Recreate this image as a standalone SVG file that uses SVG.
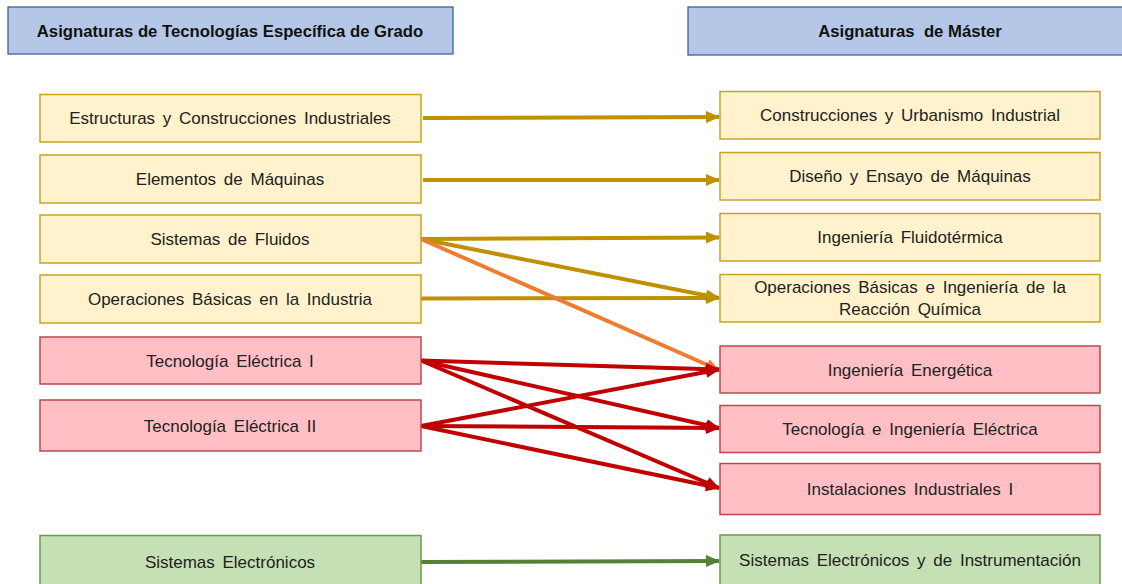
<svg xmlns="http://www.w3.org/2000/svg" width="1122" height="584" viewBox="0 0 1122 584">
  <style>
    .hdr { fill: #B4C7E7; stroke: #2F5597; stroke-width: 1.2; }
    .hdr-t { font-family: "Liberation Sans", Arial, sans-serif; font-weight: bold; font-size: 16.7px; fill: #111; text-anchor: middle; }
    .y { fill: #FFF2CC; stroke: #C9A227; stroke-width: 1.5; }
    .r { fill: #FFBFC5; stroke: #C0474D; stroke-width: 1.5; }
    .g { fill: #C5E0B4; stroke: #6A9B45; stroke-width: 1.5; }
    .t { font-family: "Liberation Sans", Arial, sans-serif; font-size: 17px; fill: #222; text-anchor: middle; word-spacing: 3px; }
    .c { fill: none; stroke-width: 4; }
    .gold { stroke: #BF9000; }
    .orange { stroke: #ED7D31; }
    .red { stroke: #C00000; }
    .green { stroke: #548235; }
  </style>
  <defs>
    <marker id="ah-gold" markerUnits="userSpaceOnUse" viewBox="0 0 14 12" markerWidth="14" markerHeight="12" refX="13" refY="6" orient="auto">
      <path d="M0,0 L14,6 L0,12 z" fill="#BF9000"/>
    </marker>
    <marker id="ah-orange" markerUnits="userSpaceOnUse" viewBox="0 0 14 12" markerWidth="14" markerHeight="12" refX="13" refY="6" orient="auto">
      <path d="M0,0 L14,6 L0,12 z" fill="#ED7D31"/>
    </marker>
    <marker id="ah-red" markerUnits="userSpaceOnUse" viewBox="0 0 14 12" markerWidth="14" markerHeight="12" refX="13" refY="6" orient="auto">
      <path d="M0,0 L14,6 L0,12 z" fill="#C00000"/>
    </marker>
    <marker id="ah-green" markerUnits="userSpaceOnUse" viewBox="0 0 14 12" markerWidth="14" markerHeight="12" refX="13" refY="6" orient="auto">
      <path d="M0,0 L14,6 L0,12 z" fill="#548235"/>
    </marker>
  </defs>

  <rect width="1122" height="584" fill="#FFFFFF"/>

  <!-- column headers -->
  <g id="header-grado">
    <rect class="hdr" x="8" y="7" width="445" height="47"/>
    <text class="hdr-t" x="230" y="37">Asignaturas de Tecnologías Específica de Grado</text>
  </g>
  <g id="header-master">
    <rect class="hdr" x="688" y="7" width="440" height="48"/>
    <text class="hdr-t" x="910" y="37" xml:space="preserve">Asignaturas  de Máster</text>
  </g>

  <!-- connectors -->
  <g id="connectors">
    <line class="c gold" x1="423" y1="118" x2="719" y2="117" marker-end="url(#ah-gold)"/>
    <line class="c gold" x1="423" y1="180" x2="719" y2="180" marker-end="url(#ah-gold)"/>
    <line class="c gold" x1="421" y1="239" x2="719" y2="237.5" marker-end="url(#ah-gold)"/>
    <line class="c gold" x1="421" y1="239" x2="719" y2="298" marker-end="url(#ah-gold)"/>
    <line class="c gold" x1="421" y1="298.5" x2="719" y2="298" marker-end="url(#ah-gold)"/>
    <line class="c orange" x1="421" y1="239" x2="719" y2="370" marker-end="url(#ah-orange)"/>
    <line class="c red" x1="421" y1="360.5" x2="719" y2="369.5" marker-end="url(#ah-red)"/>
    <line class="c red" x1="421" y1="360.5" x2="719" y2="428" marker-end="url(#ah-red)"/>
    <line class="c red" x1="421" y1="360.5" x2="719" y2="488" marker-end="url(#ah-red)"/>
    <line class="c red" x1="421" y1="426" x2="719" y2="369.5" marker-end="url(#ah-red)"/>
    <line class="c red" x1="421" y1="426" x2="719" y2="428" marker-end="url(#ah-red)"/>
    <line class="c red" x1="421" y1="426" x2="719" y2="488" marker-end="url(#ah-red)"/>
    <line class="c green" x1="421" y1="562" x2="719" y2="561" marker-end="url(#ah-green)"/>
  </g>

  <!-- grado subjects -->
  <g id="estructuras">
    <rect class="y" x="40" y="94.5" width="381" height="47.5"/>
    <text class="t" x="230" y="124">Estructuras y Construcciones Industriales</text>
  </g>
  <g id="elementos">
    <rect class="y" x="40" y="155" width="381" height="48"/>
    <text class="t" x="230" y="185">Elementos de Máquinas</text>
  </g>
  <g id="fluidos">
    <rect class="y" x="40" y="215" width="381" height="48"/>
    <text class="t" x="230" y="245">Sistemas de Fluidos</text>
  </g>
  <g id="operaciones">
    <rect class="y" x="40" y="275" width="381" height="48"/>
    <text class="t" x="230" y="305">Operaciones Básicas en la Industria</text>
  </g>
  <g id="tec-electrica-1">
    <rect class="r" x="40" y="337" width="381" height="47"/>
    <text class="t" x="230" y="367">Tecnología Eléctrica I</text>
  </g>
  <g id="tec-electrica-2">
    <rect class="r" x="40" y="400" width="381" height="51"/>
    <text class="t" x="230" y="432">Tecnología Eléctrica II</text>
  </g>
  <g id="electronicos">
    <rect class="g" x="40" y="535.5" width="381" height="52"/>
    <text class="t" x="230" y="568">Sistemas Electrónicos</text>
  </g>

  <!-- master subjects -->
  <g id="construcciones">
    <rect class="y" x="720" y="91.5" width="380" height="47.5"/>
    <text class="t" x="910" y="121">Construcciones y Urbanismo Industrial</text>
  </g>
  <g id="diseno">
    <rect class="y" x="720" y="152.5" width="380" height="47.5"/>
    <text class="t" x="910" y="182">Diseño y Ensayo de Máquinas</text>
  </g>
  <g id="fluidotermica">
    <rect class="y" x="720" y="213.5" width="380" height="47.5"/>
    <text class="t" x="910" y="243">Ingeniería Fluidotérmica</text>
  </g>
  <g id="reaccion-quimica">
    <rect class="y" x="720" y="274.5" width="380" height="47.5"/>
    <text class="t" x="910" y="293">Operaciones Básicas e Ingeniería de la</text>
    <text class="t" x="910" y="315">Reacción Química</text>
  </g>
  <g id="energetica">
    <rect class="r" x="720" y="346" width="380" height="47"/>
    <text class="t" x="910" y="376">Ingeniería Energética</text>
  </g>
  <g id="tec-ing-electrica">
    <rect class="r" x="720" y="405.5" width="380" height="47"/>
    <text class="t" x="910" y="435">Tecnología e Ingeniería Eléctrica</text>
  </g>
  <g id="instalaciones">
    <rect class="r" x="720" y="463.5" width="380" height="51"/>
    <text class="t" x="910" y="495">Instalaciones Industriales I</text>
  </g>
  <g id="instrumentacion">
    <rect class="g" x="720" y="535" width="380" height="52"/>
    <text class="t" x="910" y="566">Sistemas Electrónicos y de Instrumentación</text>
  </g>
</svg>
